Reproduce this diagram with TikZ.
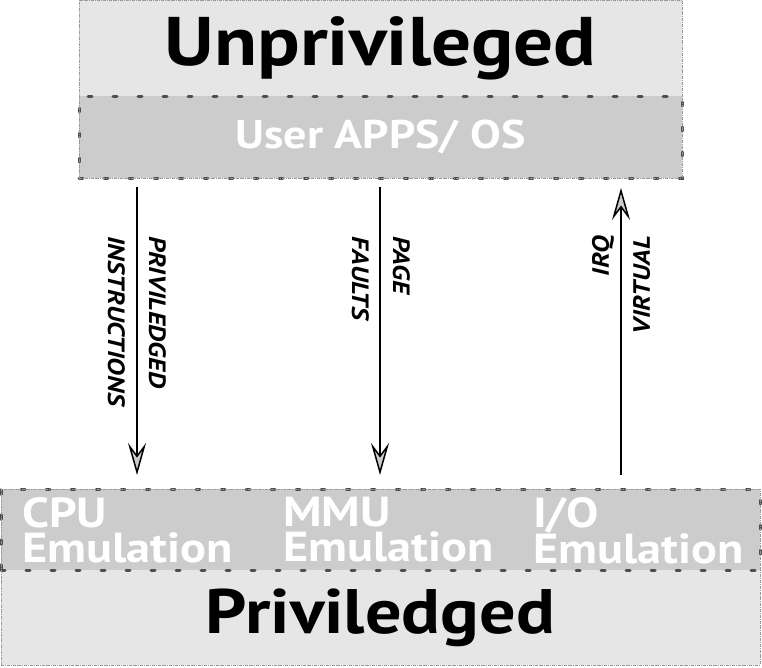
\documentclass[tikz,border=0pt]{standalone}
\usepackage{fontspec}
\setmainfont{PT Sans}[FakeStretch=1.15]
\usetikzlibrary{arrows.meta,positioning,fit}
\definecolor{ink}{HTML}{000000}
\definecolor{lightfill}{HTML}{E6E6E6}
\definecolor{bandfill}{HTML}{CCCCCC}
\definecolor{dashgray}{HTML}{4D4D4D}
\definecolor{edgegray}{HTML}{999999}
\tikzset{
  levelbox/.style={fill=lightfill, draw=none, inner sep=0pt, outer sep=0pt, align=center, text=ink},
  bandbox/.style={fill=bandfill, draw=dashgray, line width=3pt, line cap=round, dash pattern=on 4pt off 21pt, inner sep=0pt, outer sep=0pt, text=white, font=\bfseries\fontsize{40}{42}\selectfont},
  frame/.style={draw=edgegray, line width=0.8pt, densely dashdotted, inner sep=0pt, outer sep=0pt},
  emu/.style={text=white, align=left, anchor=north west, inner sep=0pt, font=\bfseries\fontsize{42}{35}\selectfont},
  flow/.style={-{Stealth[length=32pt,width=18pt,inset=12pt,fill=bandfill]}, line width=1.5pt, draw=ink},
  tag/.style={inner sep=0pt, text=ink, font=\bfseries\itshape\fontsize{23.6}{41}\selectfont}
}
\begin{document}
\begin{tikzpicture}[x=1pt,y=-1pt]
\useasboundingbox (0,0) rectangle (762,667);
% guest side
\node[levelbox, minimum width=603pt, minimum height=96pt, font=\bfseries\fontsize{68.8}{70}\selectfont] (unpriv) at (380.5,48) {Unprivileged};
\node[bandbox, minimum width=603pt, minimum height=82pt, below=0pt of unpriv] (apps) {User APPS/ OS};
\node[frame, fit=(unpriv)(apps)] (guest) {};
% host side
\node[levelbox, minimum width=759pt, minimum height=95pt, font=\bfseries\fontsize{62.8}{66}\selectfont] (priv) at (380.5,617.5) {Priviledged};
\node[bandbox, minimum width=759pt, minimum height=81pt, above=0pt of priv] (emul) {};
\node[frame, fit=(emul)(priv)] (host) {};
\node[emu] (cpu) at (22,497) {CPU\\Emulation};
\node[emu] (mmu) at (283,497) {MMU\\Emulation};
\node[emu] (io) at (533,497) {I/O\\Emulation};
% traps and interrupts
\coordinate (pi0) at (137,187); \coordinate (pi1) at (137,475);
\coordinate (pf0) at (380,187); \coordinate (pf1) at (380,475);
\coordinate (vq0) at (621,475); \coordinate (vq1) at (621,188);
\draw[flow] (pi0) -- (pi1);
\draw[flow] (pf0) -- (pf1);
\draw[flow] (vq0) -- (vq1);
\node[tag, rotate=-90, anchor=west, align=left] (pilabel) at (137,236) {PRIVILEDGED\\INSTRUCTIONS};
\node[tag, rotate=-90, anchor=west, align=left] (pflabel) at (381,236) {PAGE\\FAULTS};
\node[tag, rotate=90, anchor=east, align=right] (vqlabel) at (621,236) {IRQ\\VIRTUAL};
\end{tikzpicture}
\end{document}
